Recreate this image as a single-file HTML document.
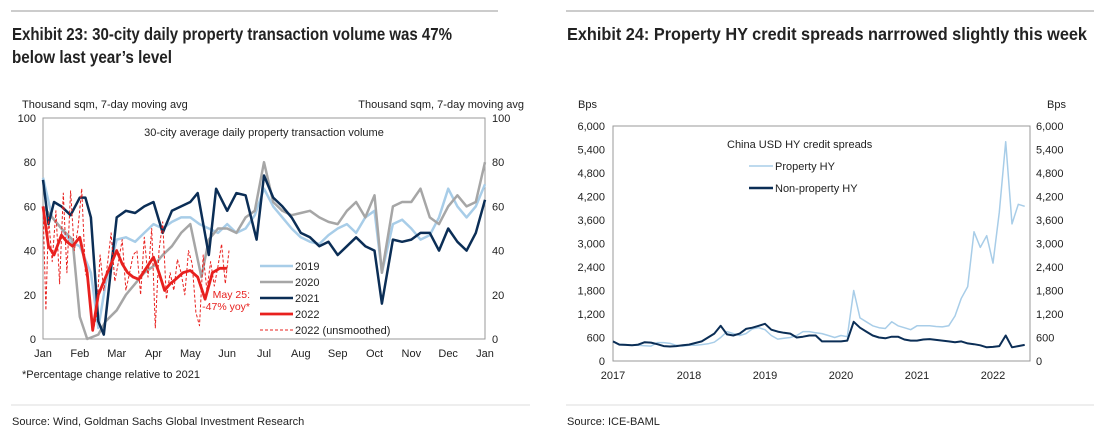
<!DOCTYPE html>
<html><head><meta charset="utf-8"><style>
body{margin:0;background:#fff;width:1104px;height:439px;overflow:hidden;font-family:"Liberation Sans",Arial,sans-serif}
svg{position:absolute;left:0;top:0}
.t{font-family:"Liberation Sans Narrow","Liberation Sans",sans-serif;font-weight:bold;font-size:17.5px;fill:#222}
.s{font-size:11px;fill:#222}
.k{font-size:11px;fill:#222}
</style></head><body>
<svg id="c" width="1104" height="439">
<line x1="11" y1="11" x2="498" y2="11" stroke="#999"/>
<line x1="566" y1="11" x2="1094" y2="11" stroke="#999"/>
<text class="t" x="12" y="40" textLength="440" lengthAdjust="spacingAndGlyphs">Exhibit 23: 30-city daily property transaction volume was 47%</text>
<text class="t" x="12" y="63" textLength="160" lengthAdjust="spacingAndGlyphs">below last year’s level</text>
<text class="t" x="567" y="40" textLength="520" lengthAdjust="spacingAndGlyphs">Exhibit 24: Property HY credit spreads narrrowed slightly this week</text>
<text class="s" x="22" y="108">Thousand sqm, 7-day moving avg</text>
<text class="s" x="524" y="108" text-anchor="end">Thousand sqm, 7-day moving avg</text>
<text class="s" x="22" y="378">*Percentage change relative to 2021</text>
<line x1="11" y1="405" x2="530" y2="405" stroke="#ddd"/>
<line x1="566" y1="405" x2="1094" y2="405" stroke="#ddd"/>
<text class="s" x="12" y="425" fill="#444">Source: Wind, Goldman Sachs Global Investment Research</text>
<text class="s" x="567" y="425">Source: ICE-BAML</text>
<text class="s" x="578" y="108">Bps</text>
<text class="s" x="1047" y="108">Bps</text>
<rect x="43" y="118" width="442" height="221" fill="none" stroke="#999"/>
<rect x="613" y="126" width="417" height="235" fill="none" stroke="#999"/>
<text class="k" x="264" y="136" text-anchor="middle">30-city average daily property transaction volume</text>
<text class="k" x="727" y="148">China USD HY credit spreads</text>
<g id="L"></g><g id="R"></g>
</svg>
<script>
// Left chart data
const months=["Jan","Feb","Mar","Apr","May","Jun","Jul","Aug","Sep","Oct","Nov","Dec","Jan"];
const yTicksL=[0,20,40,60,80,100];
const x2019=[0,0.25,0.5,0.75,1,1.3,1.5,1.7,2,2.25,2.5,2.75,3,3.25,3.5,3.75,4,4.25,4.5,4.75,5,5.25,5.5,5.75,6,6.25,6.5,6.75,7,7.25,7.5,7.75,8,8.25,8.5,8.75,9,9.2,9.5,9.75,10,10.25,10.5,10.75,11,11.25,11.5,11.75,12];
const v2019=[73,55,50,44,42,30,5,25,45,46,44,48,52,50,53,55,55,52,50,48,52,48,50,56,68,60,55,50,46,44,43,47,50,52,48,55,58,30,52,54,50,45,47,55,68,60,55,60,70];
const x2020=[0,0.25,0.5,0.8,1,1.2,1.5,1.7,2,2.25,2.5,2.75,3,3.25,3.5,3.75,4,4.3,4.5,4.75,5,5.25,5.5,5.75,6,6.25,6.5,6.75,7,7.25,7.5,7.75,8,8.25,8.5,8.75,9,9.2,9.5,9.75,10,10.25,10.5,10.75,11,11.25,11.5,11.75,12];
const v2020=[60,55,50,45,10,0,2,8,13,20,25,30,33,38,42,48,52,28,45,50,50,48,55,58,80,62,58,56,57,58,55,53,52,58,62,55,65,30,60,62,62,68,55,52,60,65,60,62,80];
const x2021=[0,0.15,0.3,0.5,0.75,1,1.15,1.3,1.5,1.65,2,2.25,2.5,2.75,3,3.25,3.5,3.75,4,4.2,4.5,4.7,5,5.25,5.5,5.8,6,6.25,6.5,6.75,7,7.25,7.5,7.75,8,8.25,8.5,8.75,9,9.2,9.5,9.75,10,10.25,10.5,10.75,11,11.25,11.5,11.75,12];
const v2021=[72,52,62,60,56,64,64,55,8,2,55,58,57,60,62,48,58,60,62,66,38,68,58,66,65,45,74,64,60,55,48,46,42,44,38,42,46,42,40,16,45,44,45,48,48,40,50,44,40,48,63];
const x2022=[0,0.15,0.3,0.5,0.65,0.8,1,1.2,1.35,1.5,1.7,2,2.15,2.3,2.45,2.6,2.8,3,3.15,3.3,3.45,3.6,3.8,4,4.2,4.4,4.6,4.8,5];
const v2022=[60,42,38,47,44,42,46,30,4,20,28,40,34,30,28,27,32,37,30,22,25,27,30,31,28,18,30,32,32];
const xRaw=[0,0.08,0.15,0.25,0.35,0.45,0.55,0.65,0.75,0.85,0.95,1.05,1.15,1.25,1.35,1.45,1.55,1.65,1.75,1.85,1.95,2.05,2.15,2.25,2.35,2.45,2.55,2.65,2.75,2.85,2.95,3.05,3.15,3.25,3.35,3.45,3.55,3.65,3.75,3.85,3.95,4.05,4.15,4.25,4.35,4.45,4.55,4.65,4.75,4.85,4.95,5.05];
const vRaw=[60,13,55,35,58,25,66,30,67,40,50,68,30,25,3,10,38,22,34,48,26,35,45,22,30,38,40,20,46,28,50,5,40,53,18,30,22,36,30,20,40,34,12,6,38,22,35,24,33,43,25,40];
// Right chart data (monthly, from Jan 2017)
const years=["2017","2018","2019","2020","2021","2022"];
const yTicksR=[0,600,1200,1800,2400,3000,3600,4200,4800,5400,6000];
const propHY=[500,430,420,400,400,390,380,470,470,450,400,380,400,400,420,440,480,600,750,700,650,700,820,850,800,650,560,580,600,650,750,750,720,700,650,600,650,620,1800,1100,1000,900,850,830,1000,900,850,800,900,900,900,880,870,900,1150,1600,1900,3300,2900,3200,2500,3800,5600,3500,4000,3950];
const nonPropHY=[500,420,410,400,420,480,470,430,380,370,380,400,420,460,500,600,700,900,680,650,700,820,850,900,950,800,750,720,700,600,620,650,650,500,500,500,500,520,1000,850,750,650,600,580,620,620,550,520,520,550,560,540,520,500,480,500,450,430,400,350,360,380,650,350,380,410];

const NS="http://www.w3.org/2000/svg";
function mk(p,t,a){const e=document.createElementNS(NS,t);for(const k in a)e.setAttribute(k,a[k]);p.appendChild(e);return e;}
const L=document.getElementById('L'),R=document.getElementById('R');
const xL=m=>43+m*(442/12), yL=v=>339-v*221/100;
const xR=i=>613+i*(76/12), yR=v=>361-v*235/6000;

yTicksL.forEach(v=>{
 let t=mk(L,'text',{x:36,y:yL(v)+4,'text-anchor':'end','font-size':11,fill:'#222'});t.textContent=v;
 
 
 let t2=mk(L,'text',{x:492,y:yL(v)+4,'font-size':11,fill:'#222'});t2.textContent=v;
 
 
});
months.forEach((m,i)=>{
 let t=mk(L,'text',{x:xL(i),y:357,'text-anchor':'middle','font-size':11,fill:'#222'});t.textContent=m;
 
 
});
function lineL(xs,vs,col,w,name,dash){
 const d=xs.map((x,i)=>(i?'L':'M')+xL(x).toFixed(1)+','+yL(vs[i]).toFixed(1)).join('');
 const p=mk(L,'path',{d:d,fill:'none',stroke:col,'stroke-width':w,'stroke-linejoin':'round'});
 if(dash)p.setAttribute('stroke-dasharray',dash);
 
 
}
lineL(x2019,v2019,'#a8cde8',2.5,'series-2019');
lineL(x2020,v2020,'#a6a6a6',2.5,'series-2020');
lineL(x2021,v2021,'#0b2e56',2.5,'series-2021');
lineL(xRaw,vRaw,'#e8201e',1,'series-2022-unsmoothed','3,2');
lineL(x2022,v2022,'#e8201e',2.8,'series-2022');
const leg=[["2019",'#a8cde8',2.5,null],["2020",'#a6a6a6',2.5,null],["2021",'#0b2e56',2.5,null],["2022",'#e8201e',2.8,null],["2022 (unsmoothed)",'#e8201e',1,'3,2']];
leg.forEach((l,i)=>{
 const y=266+i*16;
 const ln=mk(L,'line',{x1:260,x2:293,y1:y,y2:y,stroke:l[1],'stroke-width':l[2]});
 if(l[3])ln.setAttribute('stroke-dasharray',l[3]);
 
 
 const t=mk(L,'text',{x:295,y:y+4,'font-size':11,fill:'#222'});t.textContent=l[0];
 
 
});
[["May 25:",298],["-47% yoy*",310]].forEach(a=>{
 const t=mk(L,'text',{x:250,y:a[1],'text-anchor':'end','font-size':10.5,fill:'#e8201e'});t.textContent=a[0];
 
 
});

yTicksR.forEach(v=>{
 const lab=v.toLocaleString('en-US');
 let t=mk(R,'text',{x:605,y:yR(v)+4,'text-anchor':'end','font-size':11,fill:'#222'});t.textContent=lab;
 
 
 let t2=mk(R,'text',{x:1036,y:yR(v)+4,'font-size':11,fill:'#222'});t2.textContent=lab;
 
 
});
years.forEach((y,i)=>{
 let t=mk(R,'text',{x:xR(i*12),y:379,'text-anchor':'middle','font-size':11,fill:'#222'});t.textContent=y;
 
 
});
function lineR(vs,col,w,name){
 const d=vs.map((v,i)=>(i?'L':'M')+xR(i).toFixed(1)+','+yR(v).toFixed(1)).join('');
 const p=mk(R,'path',{d:d,fill:'none',stroke:col,'stroke-width':w,'stroke-linejoin':'round'});
 
 
}
lineR(propHY,'#a8cde8',1.5,'property-hy-line');
lineR(nonPropHY,'#0b2e56',2,'non-property-hy-line');
[["Property HY",'#a8cde8',1.5,170],["Non-property HY",'#0b2e56',2.5,192]].forEach(l=>{
 const ln=mk(R,'line',{x1:749,x2:773,y1:l[3]-4,y2:l[3]-4,stroke:l[1],'stroke-width':l[2]});
 
 
 const t=mk(R,'text',{x:775,y:l[3],'font-size':11,fill:'#222'});t.textContent=l[0];
 
 
});
</script>
</body></html>
